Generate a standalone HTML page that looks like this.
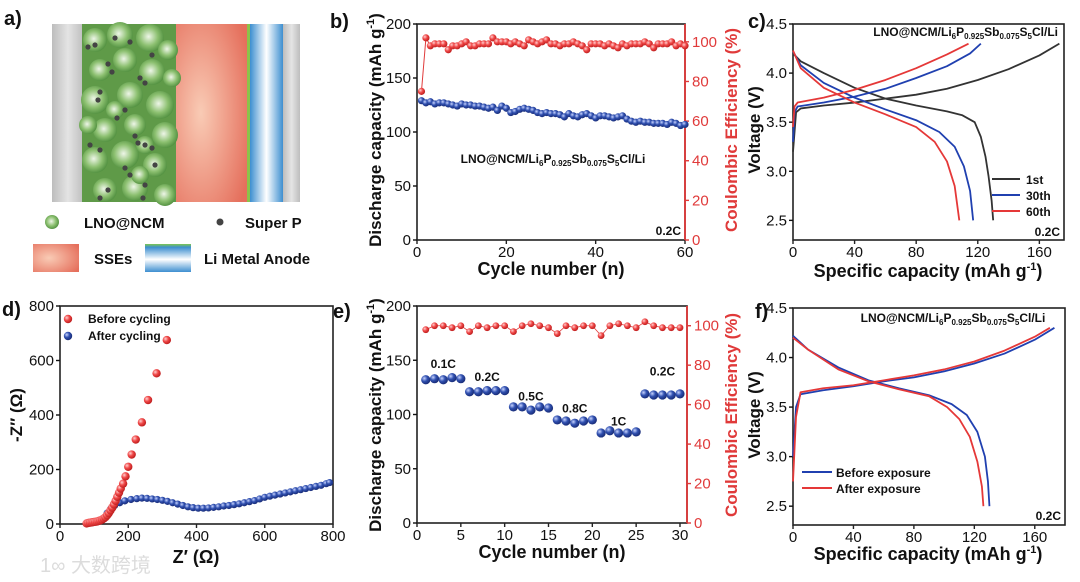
<!DOCTYPE html>
<html><head><meta charset="utf-8"><style>
html,body{margin:0;padding:0;background:#fff;}
svg{display:block;font-family:"Liberation Sans","Noto Sans CJK SC",sans-serif;}
</style></head><body>
<svg id="fig" width="1080" height="582" viewBox="0 0 1080 582" xmlns="http://www.w3.org/2000/svg">
<defs>
<radialGradient id="gR" cx="35%" cy="35%" r="65%"><stop offset="0" stop-color="#ffd0d0"/><stop offset="0.5" stop-color="#f04848"/><stop offset="1" stop-color="#c02020"/></radialGradient>
<radialGradient id="gB" cx="35%" cy="35%" r="65%"><stop offset="0" stop-color="#c8d4ff"/><stop offset="0.5" stop-color="#3050b0"/><stop offset="1" stop-color="#1a2e7a"/></radialGradient>
<radialGradient id="gG" cx="45%" cy="45%" r="60%"><stop offset="0" stop-color="#eef6e8"/><stop offset="0.55" stop-color="#8cc070"/><stop offset="1" stop-color="#4a8a3a"/></radialGradient>
<radialGradient id="gSSE" cx="35%" cy="50%" r="75%"><stop offset="0" stop-color="#f9cbb5"/><stop offset="1" stop-color="#e56f5c"/></radialGradient>
<linearGradient id="gLi" x1="0" x2="1" y1="0" y2="0"><stop offset="0" stop-color="#3d8fd0"/><stop offset="0.5" stop-color="#ffffff"/><stop offset="1" stop-color="#3d8fd0"/></linearGradient>
<linearGradient id="gAl" x1="0" x2="1"><stop offset="0" stop-color="#bdbdbd"/><stop offset="0.5" stop-color="#e4e4e4"/><stop offset="1" stop-color="#bdbdbd"/></linearGradient>
<linearGradient id="gLiLeg" x1="0" x2="0" y1="0" y2="1"><stop offset="0" stop-color="#7ec850"/><stop offset="0.12" stop-color="#3d8fd0"/><stop offset="0.55" stop-color="#ffffff"/><stop offset="1" stop-color="#3d8fd0"/></linearGradient>
</defs>
</svg>
<script>
// ---------- data ----------
const bCycles=[1,2,3,4,5,6,7,8,9,10,11,12,13,14,15,16,17,18,19,20,21,22,23,24,25,26,27,28,29,30,31,32,33,34,35,36,37,38,39,40,41,42,43,44,45,46,47,48,49,50,51,52,53,54,55,56,57,58,59,60];
const bCapacity=[129,127,128,126,127,127,126,125,124,126,125,125,124,124,123,122,123,120,124,122,118,119,121,122,121,120,118,117,118,117,117,116,114,117,115,114,116,117,115,113,115,115,114,113,114,115,112,110,109,110,109,109,108,108,108,107,109,108,106,107];
const bEfficiency=[75,102,98,99,99,99,96,98,98,99,100,98,98,99,99,99,102,100,100,100,99,100,99,98,101,100,99,100,101,99,99,98,99,99,100,99,98,96,99,99,99,98,99,98,97,99,98,99,99,99,100,99,97,99,99,99,100,98,99,98];
const bXTicks=[0,20,40,60];
const bYTicks=[0,50,100,150,200];
const bY2Ticks=[0,20,40,60,80,100];

const c1stChgCap=[0,2,5,20,40,60,80,100,120,140,160,173];
const c1stChgV=[3.2,3.6,3.64,3.67,3.70,3.74,3.78,3.84,3.93,4.04,4.18,4.30];
const c1stDisCap=[0,5,20,40,60,80,100,110,118,122,125,127,129,130];
const c1stDisV=[4.2,4.12,4.0,3.85,3.74,3.67,3.61,3.57,3.50,3.35,3.15,2.95,2.7,2.5];
const c30ChgCap=[0,1,3,20,40,60,80,100,115,122];
const c30ChgV=[3.3,3.6,3.66,3.7,3.76,3.84,3.95,4.07,4.2,4.3];
const c30DisCap=[0,5,20,40,60,80,95,105,111,115,117];
const c30DisV=[4.22,4.08,3.9,3.75,3.63,3.52,3.4,3.25,3.05,2.8,2.5];
const c60ChgCap=[0,1,3,20,40,60,80,100,114];
const c60ChgV=[3.45,3.66,3.7,3.75,3.83,3.93,4.05,4.19,4.3];
const c60DisCap=[0,5,20,40,60,80,92,100,105,108];
const c60DisV=[4.23,4.05,3.85,3.7,3.58,3.45,3.3,3.1,2.85,2.5];
const cVTicks=[2.5,3.0,3.5,4.0,4.5];
const capTicks=[0,40,80,120,160];

const dBeforeRe=[78,83,88,93,98,103,108,113,118,123,128,133,138,143,148,153,158,163,168,173,178,185,192,200,210,222,240,258,283,313];
const dBeforeIm=[2,4,5,6,7,8,9,11,13,16,20,25,32,40,50,60,72,85,100,115,130,148,175,210,255,310,373,455,553,675];
const dAfterRe=[130,138,148,160,175,190,208,225,240,255,270,285,300,315,330,345,360,375,390,405,420,435,450,465,480,495,510,525,540,555,570,585,600,615,630,645,660,675,690,705,720,735,750,765,780,790];
const dAfterIm=[20,40,55,68,78,85,90,93,95,94,92,90,87,83,78,73,68,63,60,58,58,59,61,63,66,68,71,74,78,82,86,92,98,102,106,110,114,118,122,126,130,134,138,142,148,152];
const dTicks=[0,200,400,600,800];

const eCycles=[1,2,3,4,5,6,7,8,9,10,11,12,13,14,15,16,17,18,19,20,21,22,23,24,25,26,27,28,29,30];
const eCapacity=[132,133,132,134,133,121,121,122,122,122,107,107,104,107,106,95,94,92,94,95,83,85,83,83,84,119,118,118,118,119];
const eEfficiency=[98,100,100,99,100,97,100,99,100,100,97,100,101,100,99,96,100,99,100,100,95,100,101,100,99,102,100,99,99,99];
const eXTicks=[0,5,10,15,20,25,30];
const eRateLabels=['0.1C','0.2C','0.5C','0.8C','1C','0.2C'];
const eRateCycle=[3,8,13,18,23,28];
const eRateCap=[143,131,113,102,90,136];

const fBefChgCap=[0,2,5,20,40,60,80,100,120,140,160,173];
const fBefChgV=[3.0,3.5,3.63,3.67,3.71,3.76,3.80,3.86,3.94,4.04,4.18,4.30];
const fBefDisCap=[0,10,30,50,70,90,105,115,122,127,129,130];
const fBefDisV=[4.22,4.08,3.9,3.77,3.69,3.62,3.53,3.42,3.25,3.0,2.75,2.5];
const fAftChgCap=[0,2,5,20,40,60,80,100,120,140,160,170];
const fAftChgV=[2.75,3.4,3.65,3.69,3.72,3.77,3.82,3.88,3.96,4.07,4.21,4.30];
const fAftDisCap=[0,10,30,50,70,90,102,110,117,122,125,126];
const fAftDisV=[4.2,4.08,3.88,3.76,3.68,3.61,3.5,3.38,3.2,2.95,2.7,2.5];

// ---------- helpers ----------
const NS='http://www.w3.org/2000/svg';
const svg=document.getElementById('fig');
function mk(tag,attrs,parent){const e=document.createElementNS(NS,tag);for(const k in attrs)e.setAttribute(k,attrs[k]);(parent||svg).appendChild(e);return e;}
function lin(d0,d1,r0,r1){return v=>r0+(v-d0)*(r1-r0)/(d1-d0);}
function txt(x,y,s,o,parent){const t=mk('text',Object.assign({x:x,y:y,'font-size':14,fill:'#111'},o||{}),parent);t.textContent=s;return t;}
function box(x0,y0,x1,y1,name,rightColor){
  const g=mk('g',{});
  
  
  mk('rect',{x:x0,y:y0,width:x1-x0,height:y1-y0,fill:'none',stroke:'#222','stroke-width':1.6},g);
  if(rightColor)mk('line',{x1:x1,y1:y0,x2:x1,y2:y1,stroke:rightColor,'stroke-width':1.8},g);
  return g;
}
function xTicks(ticks,sx,y,name){
  const g=mk('g',{});
  
  
  ticks.forEach(v=>{mk('line',{x1:sx(v),y1:y,x2:sx(v),y2:y+4,stroke:'#222','stroke-width':1.4},g);
    const t=txt(sx(v),y+17,String(v),{'text-anchor':'middle','font-size':15},g);
    
    });
}
function yTicks(ticks,sy,x,name,side,color,fmt){
  const g=mk('g',{});
  
  
  const c=color||'#111';
  ticks.forEach(v=>{const d=side==='r'?4:-4;
    mk('line',{x1:x,y1:sy(v),x2:x+d,y2:sy(v),stroke:c,'stroke-width':1.4},g);
    const t=txt(side==='r'?x+7:x-6,sy(v)+5,fmt?fmt(v):String(v),{'text-anchor':side==='r'?'start':'end','font-size':15,fill:c},g);
    
    });
}
function rotTitle(x,y,s,name,color,size){
  const t=mk('text',{x:0,y:0,transform:`translate(${x},${y}) rotate(-90)`,'text-anchor':'middle','font-size':size||17,'font-weight':'bold',fill:color||'#111'});
  t.innerHTML=s;
  
  
}
function hTitle(x,y,s,name){
  const t=mk('text',{x:x,y:y,'text-anchor':'middle','font-size':18,'font-weight':'bold',fill:'#111'});
  t.innerHTML=s;
  
  
}
function poly(xs,ys,sx,sy,color,w,name){
  const p=mk('polyline',{points:xs.map((v,i)=>sx(v)+','+sy(ys[i])).join(' '),fill:'none',stroke:color,'stroke-width':w,'stroke-linejoin':'round'});
  
  
}
function dots(xs,ys,sx,sy,grad,r,name){
  const g=mk('g',{});
  
  
  xs.forEach((v,i)=>{const c=mk('circle',{cx:sx(v),cy:sy(ys[i]),r:r,fill:grad},g);
    
    });
}
function label(x,y,s,name){const t=txt(x,y,s,{'font-size':20,'font-weight':'bold'});
  
  }
const formula='LNO@NCM/Li<tspan font-size="8" dy="3">6</tspan><tspan dy="-3">P</tspan><tspan font-size="8" dy="3">0.925</tspan><tspan dy="-3">Sb</tspan><tspan font-size="8" dy="3">0.075</tspan><tspan dy="-3">S</tspan><tspan font-size="8" dy="3">5</tspan><tspan dy="-3">Cl/Li</tspan>';
function formulaText(x,y,anchor,name){const t=mk('text',{x:x,y:y,'text-anchor':anchor,'font-size':12,'font-weight':'bold',fill:'#111'});
  t.innerHTML=formula;
  
  }
function small(x,y,s,name,anchor){const t=txt(x,y,s,{'font-size':12,'font-weight':'bold','text-anchor':anchor||'start'});
  
  }

// ---------- panel a (schematic) ----------
const ga=mk('g',{});


mk('rect',{x:52,y:24,width:32,height:178,fill:'url(#gAl)'},ga);
mk('rect',{x:82,y:24,width:98,height:178,fill:'#5f9a48'},ga);
mk('rect',{x:176,y:24,width:71,height:178,fill:'url(#gSSE)'},ga);
mk('rect',{x:247,y:24,width:3,height:178,fill:'#8bc34a'},ga);
mk('rect',{x:250,y:24,width:33,height:178,fill:'url(#gLi)'},ga);
mk('rect',{x:283,y:24,width:17,height:178,fill:'url(#gAl)'},ga);
const sph=[[95,40,12],[120,35,13],[150,38,14],[168,50,10],[100,70,11],[125,60,12],[152,72,13],[95,100,14],[130,95,13],[160,105,14],[105,130,12],[135,125,11],[165,135,13],[95,160,13],[125,155,14],[155,165,12],[105,190,12],[135,188,13],[165,195,11],[115,110,9],[145,145,9],[88,125,9],[172,78,9],[140,175,9]];
sph.forEach(s=>{mk('circle',{cx:s[0],cy:s[1],r:s[2],fill:'url(#gG)'},ga);});
const blk=[[88,47],[95,45],[115,38],[130,42],[152,55],[108,64],[112,72],[140,78],[145,83],[100,92],[98,100],[125,110],[117,118],[135,136],[138,143],[90,145],[100,150],[145,145],[152,148],[155,165],[125,168],[130,175],[145,185],[100,198],[108,190],[143,198]];
blk.forEach(p=>{mk('circle',{cx:p[0],cy:p[1],r:2.6,fill:'#444'},ga);});
mk('circle',{cx:52,cy:222,r:7,fill:'url(#gG)'});
txt(84,228,'LNO@NCM',{'font-size':15,'font-weight':'bold'});
mk('circle',{cx:220,cy:222,r:3.5,fill:'#444'});
txt(245,228,'Super P',{'font-size':15,'font-weight':'bold'});
mk('rect',{x:33,y:244,width:46,height:28,fill:'url(#gSSE)'});
txt(94,264,'SSEs',{'font-size':15,'font-weight':'bold'});
mk('rect',{x:145,y:244,width:46,height:28,fill:'url(#gLiLeg)'});
txt(204,264,'Li Metal Anode',{'font-size':15,'font-weight':'bold'});
label(4,25,'a)','panel-a-label');

// ---------- panel b ----------
const xb=lin(0,60,417,685), yb=lin(0,200,240,24), ybr=lin(0,109,240,24);
box(417,24,685,240,'panel-b-frame','#e03a3a');
xTicks(bXTicks,xb,240,'b-x-axis');
yTicks(bYTicks,yb,417,'b-y-axis','l');
yTicks(bY2Ticks,ybr,685,'b-y2-axis','r','#e03a3a');
poly(bCycles,bEfficiency,xb,ybr,'#e03a3a',1,'b-efficiency-line');
dots(bCycles,bEfficiency,xb,ybr,'url(#gR)',3.6,'b-efficiency-points');
poly(bCycles,bCapacity,xb,yb,'#2a4aa0',1,'b-capacity-line');
dots(bCycles,bCapacity,xb,yb,'url(#gB)',3.6,'b-capacity-points');
formulaText(553,163,'middle','b-formula');
small(681,235,'0.2C','b-rate','end');
rotTitle(381,130,'Discharge capacity (mAh g<tspan font-size="11" dy="-7">-1</tspan><tspan dy="7">)</tspan>','b-y-title');
rotTitle(737,130,'Coulombic Efficiency (%)','b-y2-title','#e03a3a');
hTitle(551,275,'Cycle number (n)','b-x-title');
label(330,28,'b)','panel-b-label');

// ---------- panel c ----------
const xc=lin(0,176,793,1064), yc=lin(2.3,4.5,240,24);
box(793,24,1064,240,'panel-c-frame');
xTicks(capTicks,xc,240,'c-x-axis');
yTicks(cVTicks,yc,793,'c-y-axis','l',null,v=>v.toFixed(1));
poly(c1stChgCap,c1stChgV,xc,yc,'#333',1.8,'c-1st-charge');
poly(c1stDisCap,c1stDisV,xc,yc,'#333',1.8,'c-1st-discharge');
poly(c30ChgCap,c30ChgV,xc,yc,'#2040b0',1.8,'c-30th-charge');
poly(c30DisCap,c30DisV,xc,yc,'#2040b0',1.8,'c-30th-discharge');
poly(c60ChgCap,c60ChgV,xc,yc,'#e53838',1.8,'c-60th-charge');
poly(c60DisCap,c60DisV,xc,yc,'#e53838',1.8,'c-60th-discharge');
[['1st','#333',179],['30th','#2040b0',195],['60th','#e53838',211]].forEach(l=>{
  const ln=mk('line',{x1:992,y1:l[2],x2:1020,y2:l[2],stroke:l[1],'stroke-width':2});
  
  
  small(1026,l[2]+5,l[0],'legend-entry');
});
formulaText(1058,36,'end','c-formula');
small(1060,236,'0.2C','c-rate','end');
rotTitle(760,130,'Voltage (V)','c-y-title');
hTitle(928,277,'Specific capacity (mAh g<tspan font-size="11" dy="-7">-1</tspan><tspan dy="7">)</tspan>','c-x-title');
label(748,28,'c)','panel-c-label');

// ---------- panel d ----------
const xd=lin(0,800,60,333), yd=lin(0,800,524,306);
box(60,306,333,524,'panel-d-frame');
xTicks(dTicks,xd,524,'d-x-axis');
yTicks(dTicks,yd,60,'d-y-axis','l');
dots(dAfterRe,dAfterIm,xd,yd,'url(#gB)',3.6,'d-after-points');
dots(dBeforeRe,dBeforeIm,xd,yd,'url(#gR)',4.2,'d-before-points');
mk('circle',{cx:68,cy:319,r:4.2,fill:'url(#gR)'});
small(88,323,'Before cycling','legend-before-cycling');
mk('circle',{cx:68,cy:336,r:4.2,fill:'url(#gB)'});
small(88,340,'After cycling','legend-after-cycling');
rotTitle(22,415,'-Z″ (Ω)','d-y-title');
hTitle(196,563,'Z′ (Ω)','d-x-title');
label(2,316,'d)','panel-d-label');
const wm=txt(40,572,'1∞ 大数跨境',{'font-size':20,fill:'#dcdcdc','font-family':'"Liberation Sans","Noto Sans CJK SC",sans-serif'});



// ---------- panel e ----------
const xe=lin(0,30.8,417,687), ye=lin(0,200,523,306), yer=lin(0,110,523,306);
box(417,306,687,523,'panel-e-frame','#e03a3a');
xTicks(eXTicks,xe,523,'e-x-axis');
yTicks(bYTicks,ye,417,'e-y-axis','l');
yTicks(bY2Ticks,yer,687,'e-y2-axis','r','#e03a3a');
poly(eCycles,eEfficiency,xe,yer,'#e03a3a',0.8,'e-efficiency-line');
dots(eCycles,eEfficiency,xe,yer,'url(#gR)',3.4,'e-efficiency-points');
dots(eCycles,eCapacity,xe,ye,'url(#gB)',4.6,'e-capacity-points');
eRateLabels.forEach((s,i)=>{small(xe(eRateCycle[i]),ye(eRateCap[i]),s,'rate-label','middle');});
rotTitle(381,415,'Discharge capacity (mAh g<tspan font-size="11" dy="-7">-1</tspan><tspan dy="7">)</tspan>','e-y-title');
rotTitle(737,415,'Coulombic Efficiency (%)','e-y2-title','#e03a3a');
hTitle(552,558,'Cycle number (n)','e-x-title');
label(333,318,'e)','panel-e-label');

// ---------- panel f ----------
const xf=lin(0,180,793,1065), yf=lin(2.31,4.5,525,308);
box(793,308,1065,525,'panel-f-frame');
xTicks(capTicks,xf,525,'f-x-axis');
yTicks(cVTicks,yf,793,'f-y-axis','l',null,v=>v.toFixed(1));
poly(fBefChgCap,fBefChgV,xf,yf,'#2040b0',1.8,'f-before-charge');
poly(fBefDisCap,fBefDisV,xf,yf,'#2040b0',1.8,'f-before-discharge');
poly(fAftChgCap,fAftChgV,xf,yf,'#e53838',1.8,'f-after-charge');
poly(fAftDisCap,fAftDisV,xf,yf,'#e53838',1.8,'f-after-discharge');
[['Before exposure','#2040b0',472],['After exposure','#e53838',488]].forEach(l=>{
  const ln=mk('line',{x1:802,y1:l[2],x2:832,y2:l[2],stroke:l[1],'stroke-width':2});
  
  
  small(836,l[2]+5,l[0],'legend-entry');
});
formulaText(953,322,'middle','f-formula');
small(1061,520,'0.2C','f-rate','end');
rotTitle(760,415,'Voltage (V)','f-y-title');
hTitle(928,560,'Specific capacity (mAh g<tspan font-size="11" dy="-7">-1</tspan><tspan dy="7">)</tspan>','f-x-title');
label(755,318,'f)','panel-f-label');
</script>
</body></html>
